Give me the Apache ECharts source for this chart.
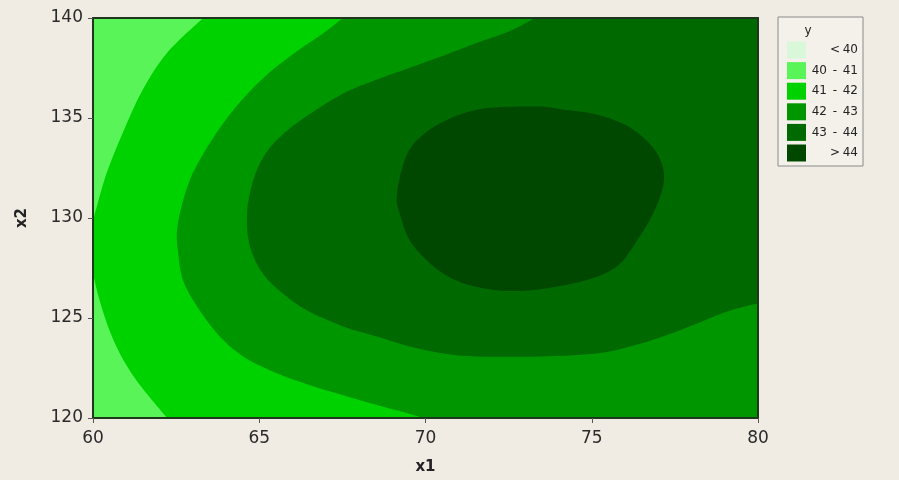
<!DOCTYPE html>
<html lang="en">
<head>
    <meta charset="UTF-8">
    <title>Contour Plot of y vs x2, x1</title>
    <script src="https://cdn.jsdelivr.net/npm/echarts@6/dist/echarts.min.js"></script>
    <style>
        html, body { margin: 0; padding: 0; background: #f0ece4; }
        #chart { width: 899px; height: 480px; }
    </style>
</head>
<body>
    <div id="chart"></div>

    <script>
        // contour levels of y and the fill colours for each band
        const breaks = [40, 41, 42, 43, 44];
        const bandColors = ['#d9f8d9', '#58f458', '#00d200', '#009600', '#006a00', '#004800'];

        const x1Range = [60, 80];
        const x2Range = [120, 140];

        // contour lines as [x1, x2]
        const contour41 = [
            [63.31, 140], [62.23, 138.26], [61.50, 136.42], [60.90, 134.28], [60.42, 132.29],
            [60.12, 130.6], [60, 129.6], [60, 127.3], [60.51, 124.33], [61.20, 122.14], [62.23, 120]
        ];
        const contour42 = [
            [67.52, 140], [66.89, 139.20], [66.11, 138.31], [65.26, 137.21], [64.57, 136.07],
            [64.09, 135.12], [63.64, 134.08], [63.25, 133.03], [62.92, 131.94], [62.68, 130.70],
            [62.53, 129.45], [62.55, 128.4], [62.71, 126.87], [63.13, 125.57], [63.73, 124.23],
            [64.51, 123.08], [65.53, 122.24], [66.53, 121.64], [67.52, 121.14], [68.54, 120.65],
            [69.53, 120.20], [69.92, 120]
        ];
        const contour43 = [
            [73.29, 140], [72.54, 139.35], [71.55, 138.76], [70.53, 138.11], [69.53, 137.51],
            [68.54, 136.92], [67.52, 136.22], [66.59, 135.27], [65.77, 134.28], [65.17, 133.18],
            [64.81, 131.84], [64.63, 130.20], [64.72, 128.56], [65.11, 127.21], [65.71, 126.22],
            [66.44, 125.37], [67.52, 124.58], [68.54, 124.08], [69.53, 123.58], [70.53, 123.23],
            [71.55, 123.08], [73.44, 123.08], [75.16, 123.23], [76.15, 123.58], [77.14, 124.08],
            [78.17, 124.73], [79.16, 125.37], [80, 125.72]
        ];
        const contour44 = [
            [69.14, 131.19], [69.44, 133.18], [70.05, 134.33], [71.04, 135.17], [72.03, 135.52],
            [73.44, 135.57], [74.14, 135.42], [75.16, 135.17], [76.15, 134.53], [76.84, 133.53],
            [77.14, 132.54], [77.14, 131.54], [76.84, 130.20], [76.36, 128.86], [75.85, 127.71],
            [75.16, 127.06], [74.14, 126.62], [73.14, 126.38], [72.2, 126.38], [71.3, 126.65],
            [70.6, 127.15], [70.05, 127.86], [69.53, 128.86], [69.23, 130.20]
        ];

        // filled regions: each band plus everything above it.
        // "edge" = corners of the plot that close the shape (drawn straight)
        const lo = [x1Range[0], x2Range[0]], hi = [x1Range[1], x2Range[1]];
        const regions = [
            { band: 1, curve: [], edge: [lo, [hi[0], lo[1]], hi, [lo[0], hi[1]]] },
            { band: 2, curve: contour41, edge: [[hi[0], lo[1]], hi] },
            { band: 3, curve: contour42, edge: [[hi[0], lo[1]], hi] },
            { band: 4, curve: contour43, edge: [hi] },
            { band: 5, curve: contour44, edge: null }
        ];

        // Catmull-Rom through pixel points -> svg path
        function splinePath(p, closed) {
            const n = p.length;
            const at = function (i) {
                if (closed) return p[(i + n) % n];
                return p[Math.max(0, Math.min(n - 1, i))];
            };
            let d = 'M' + p[0][0] + ' ' + p[0][1];
            const segs = closed ? n : n - 1;
            for (let i = 0; i < segs; i++) {
                const p0 = at(i - 1), p1 = at(i), p2 = at(i + 1), p3 = at(i + 2);
                const c1 = [p1[0] + (p2[0] - p0[0]) / 6, p1[1] + (p2[1] - p0[1]) / 6];
                const c2 = [p2[0] - (p3[0] - p1[0]) / 6, p2[1] - (p3[1] - p1[1]) / 6];
                d += ' C' + c1[0] + ' ' + c1[1] + ' ' + c2[0] + ' ' + c2[1] + ' ' + p2[0] + ' ' + p2[1];
            }
            return d;
        }

        const chart = echarts.init(document.getElementById('chart'));
        const font = 'DejaVu Sans';
        const axisColor = '#1f361f';

        // legend drawn by hand (Minitab style box)
        const legendItems = [];
        legendItems.push({
            type: 'rect', shape: { x: 778, y: 17, width: 85, height: 149 },
            style: { fill: '#f4f1eb', stroke: '#8a8a8a', lineWidth: 1 }
        });
        legendItems.push({
            type: 'text', x: 808, y: 31,
            style: { text: 'y', font: '12px ' + font, fill: '#222', align: 'center', verticalAlign: 'middle' }
        });
        bandColors.forEach(function (c, i) {
            const cy = 50 + i * 20.6;
            legendItems.push({
                type: 'rect', shape: { x: 787, y: cy - 8.5, width: 19, height: 17 },
                style: { fill: c }
            });
            let left = '', mid = '', right = '';
            if (i === 0) { mid = '<'; right = String(breaks[0]); }
            else if (i === bandColors.length - 1) { mid = '>'; right = String(breaks[breaks.length - 1]); }
            else { left = String(breaks[i - 1]); mid = '-'; right = String(breaks[i]); }
            const ts = { font: '12px ' + font, fill: '#222', verticalAlign: 'middle' };
            legendItems.push({ type: 'text', x: 827, y: cy, style: Object.assign({ text: left, align: 'right' }, ts) });
            legendItems.push({ type: 'text', x: 835, y: cy, style: Object.assign({ text: mid, align: 'center' }, ts) });
            legendItems.push({ type: 'text', x: 858, y: cy, style: Object.assign({ text: right, align: 'right' }, ts) });
        });

        const hiddenAxis = {
            axisTick: { show: false }, axisLabel: { show: false }, splitLine: { show: false },
            axisLine: { show: true, lineStyle: { color: axisColor, width: 2 } }
        };

        chart.setOption({
            backgroundColor: '#f0ece4',
            animation: false,
            grid: { left: 93, right: 141, top: 18, bottom: 60 },
            xAxis: [{
                type: 'value', min: x1Range[0], max: x1Range[1], interval: 5, z: 10,
                name: 'x1', nameLocation: 'middle', nameGap: 42,
                nameTextStyle: { fontFamily: font, fontSize: 15, fontWeight: 'bold', color: '#222' },
                axisLine: { lineStyle: { color: axisColor, width: 2 } },
                axisTick: { show: true, length: 5, lineStyle: { color: '#555' } },
                axisLabel: { fontFamily: font, fontSize: 17, color: '#2a2a2a', margin: 12 },
                splitLine: { show: false }
            }, Object.assign({ type: 'value', position: 'top', min: x1Range[0], max: x1Range[1], z: 10 }, hiddenAxis)],
            yAxis: [{
                type: 'value', min: x2Range[0], max: x2Range[1], interval: 5, z: 10,
                name: 'x2', nameLocation: 'middle', nameGap: 63, nameRotate: 90,
                nameTextStyle: { fontFamily: font, fontSize: 15, fontWeight: 'bold', color: '#222' },
                axisLine: { show: true, lineStyle: { color: axisColor, width: 2 } },
                axisTick: { show: true, length: 5, lineStyle: { color: '#555' } },
                axisLabel: { fontFamily: font, fontSize: 17, color: '#2a2a2a', margin: 10 },
                splitLine: { show: false }
            }, Object.assign({ type: 'value', position: 'right', min: x2Range[0], max: x2Range[1], z: 10 }, hiddenAxis)],
            graphic: legendItems,
            series: [{
                type: 'custom',
                xAxisIndex: 0,
                yAxisIndex: 0,
                data: regions.map(function (r, i) { return [i]; }),
                encode: { x: -1, y: -1 },
                renderItem: function (params, api) {
                    const r = regions[params.dataIndex];
                    const cs = params.coordSys;
                    const toPx = function (p) { return api.coord(p); };
                    let d;
                    if (!r.curve.length) {
                        const e = r.edge.map(toPx);
                        d = 'M' + e.map(function (q) { return q[0] + ' ' + q[1]; }).join(' L') + ' Z';
                    } else if (!r.edge) {
                        d = splinePath(r.curve.map(toPx), true) + ' Z';
                    } else {
                        d = splinePath(r.curve.map(toPx), false);
                        r.edge.map(toPx).forEach(function (q) { d += ' L' + q[0] + ' ' + q[1]; });
                        d += ' Z';
                    }
                    return {
                        type: 'path',
                        shape: { pathData: d },
                        style: { fill: bandColors[r.band], stroke: null },
                        clipPath: { type: 'rect', shape: { x: cs.x, y: cs.y, width: cs.width, height: cs.height } }
                    };
                }
            }]
        });
    </script>
</body>
</html>
